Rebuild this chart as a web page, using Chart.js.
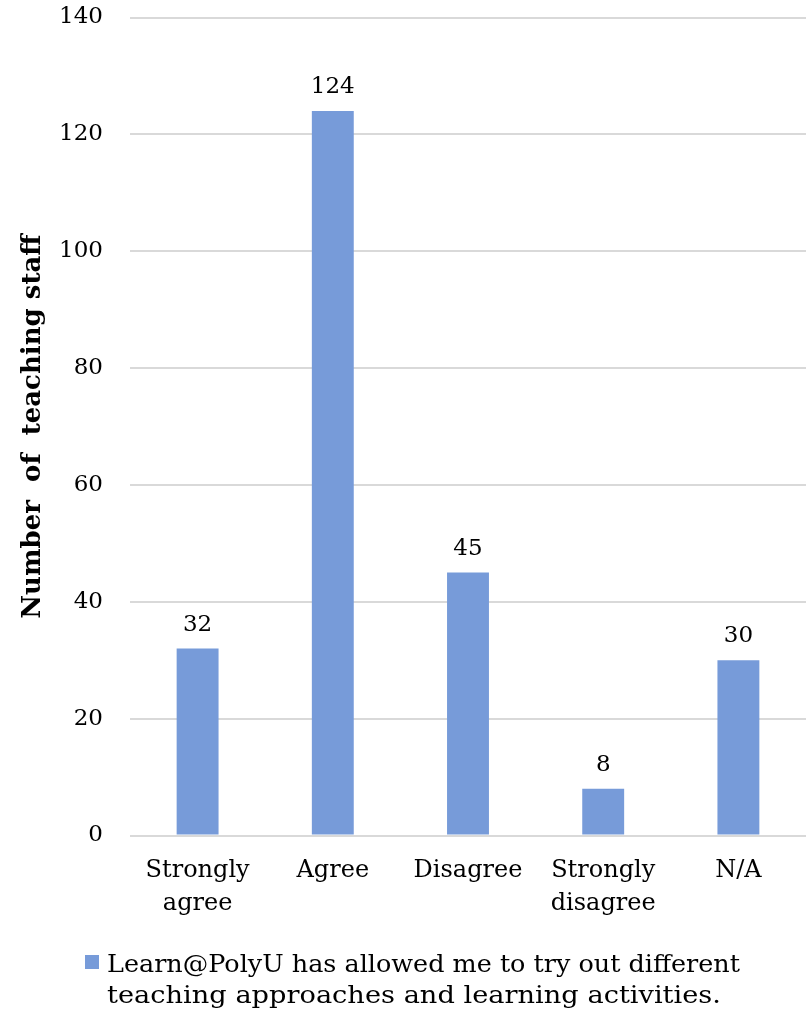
<!DOCTYPE html>
<html>
<head>
<meta charset="utf-8">
<script src="https://cdn.jsdelivr.net/npm/chart.js@4/dist/chart.umd.min.js"></script>
<style>
  html, body { margin: 0; padding: 0; background: #fff; }
  #wrap { width: 806px; height: 1010px; position: relative; }
</style>
</head>
<body>
<div id="wrap"><canvas id="chart" width="806" height="1010"></canvas></div>
<script>
// データ
const categories = [['Strongly', 'agree'], 'Agree', 'Disagree', ['Strongly', 'disagree'], 'N/A'];
const counts = [32, 124, 45, 8, 30];
const seriesLabel = 'Learn@PolyU has allowed me to try out different teaching approaches and learning activities.';
const legendLines = ['Learn@PolyU has allowed me to try out different', 'teaching approaches and learning activities.'];
const yTicks = [0, 20, 40, 60, 80, 100, 120, 140];

const barColor = 'rgb(119, 155, 217)';

// 棒の上に値を描く
const valueLabels = {
  id: 'valueLabels',
  afterDatasetsDraw(chart) {
    const ctx = chart.ctx;
    const meta = chart.getDatasetMeta(0);
    ctx.save();
    ctx.font = '23px "DejaVu Serif"';
    ctx.fillStyle = '#000';
    ctx.textAlign = 'center';
    ctx.textBaseline = 'alphabetic';
    meta.data.forEach((bar, i) => {
      ctx.fillText(String(counts[i]), bar.x, bar.y - 18);
    });
    ctx.restore();
  }
};

// 凡例（2行）
const bottomLegend = {
  id: 'bottomLegend',
  afterDraw(chart) {
    const ctx = chart.ctx;
    const widths = [633, 614];
    ctx.save();
    ctx.fillStyle = barColor;
    ctx.fillRect(85, 955, 14, 14);
    ctx.fillStyle = '#000';
    ctx.font = '25px "DejaVu Serif"';
    ctx.textAlign = 'left';
    ctx.textBaseline = 'alphabetic';
    legendLines.forEach((line, i) => {
      const w = ctx.measureText(line).width;
      ctx.save();
      ctx.translate(107, 972 + i * 31);
      ctx.scale(widths[i] / w, 1);
      ctx.fillText(line, 0, 0);
      ctx.restore();
    });
    ctx.restore();
  }
};

const chart = new Chart(document.getElementById('chart').getContext('2d'), {
  type: 'bar',
  data: {
    labels: categories,
    datasets: [{
      label: seriesLabel,
      data: counts,
      backgroundColor: barColor,
      borderWidth: 0,
      barPercentage: 0.31,
      categoryPercentage: 1.0
    }]
  },
  options: {
    responsive: false,
    animation: false,
    layout: { padding: { top: 0, right: 0, bottom: 90, left: 0 } },
    plugins: {
      legend: { display: false },
      tooltip: { enabled: false }
    },
    scales: {
      x: {
        grid: { display: false, drawTicks: false },
        border: { display: false },
        ticks: {
          color: '#000',
          font: { family: 'DejaVu Serif', size: 24, lineHeight: 1.38 },
          padding: 19,
          maxRotation: 0,
          autoSkip: false
        },
        afterFit(scale) { scale.height = 84.5; }
      },
      y: {
        min: 0,
        max: 140,
        afterBuildTicks(scale) { scale.ticks = yTicks.map(v => ({ value: v })); },
        grid: { color: '#d9d9d9', lineWidth: 2, drawTicks: false },
        border: { display: false },
        ticks: {
          color: '#000',
          font: { family: 'DejaVu Serif', size: 23 },
          padding: 27
        },
        title: {
          display: true,
          text: 'Number  of  teaching staff',
          color: '#000',
          font: { family: 'DejaVu Serif', size: 26, weight: 'bold' },
          padding: { top: 18, bottom: 0 }
        },
        afterFit(scale) {
          scale.width = 130;
          scale.paddingTop = 17.5;
          scale.paddingBottom = 0;
        }
      }
    }
  },
  plugins: [valueLabels, bottomLegend]
});
</script>
</body>
</html>
